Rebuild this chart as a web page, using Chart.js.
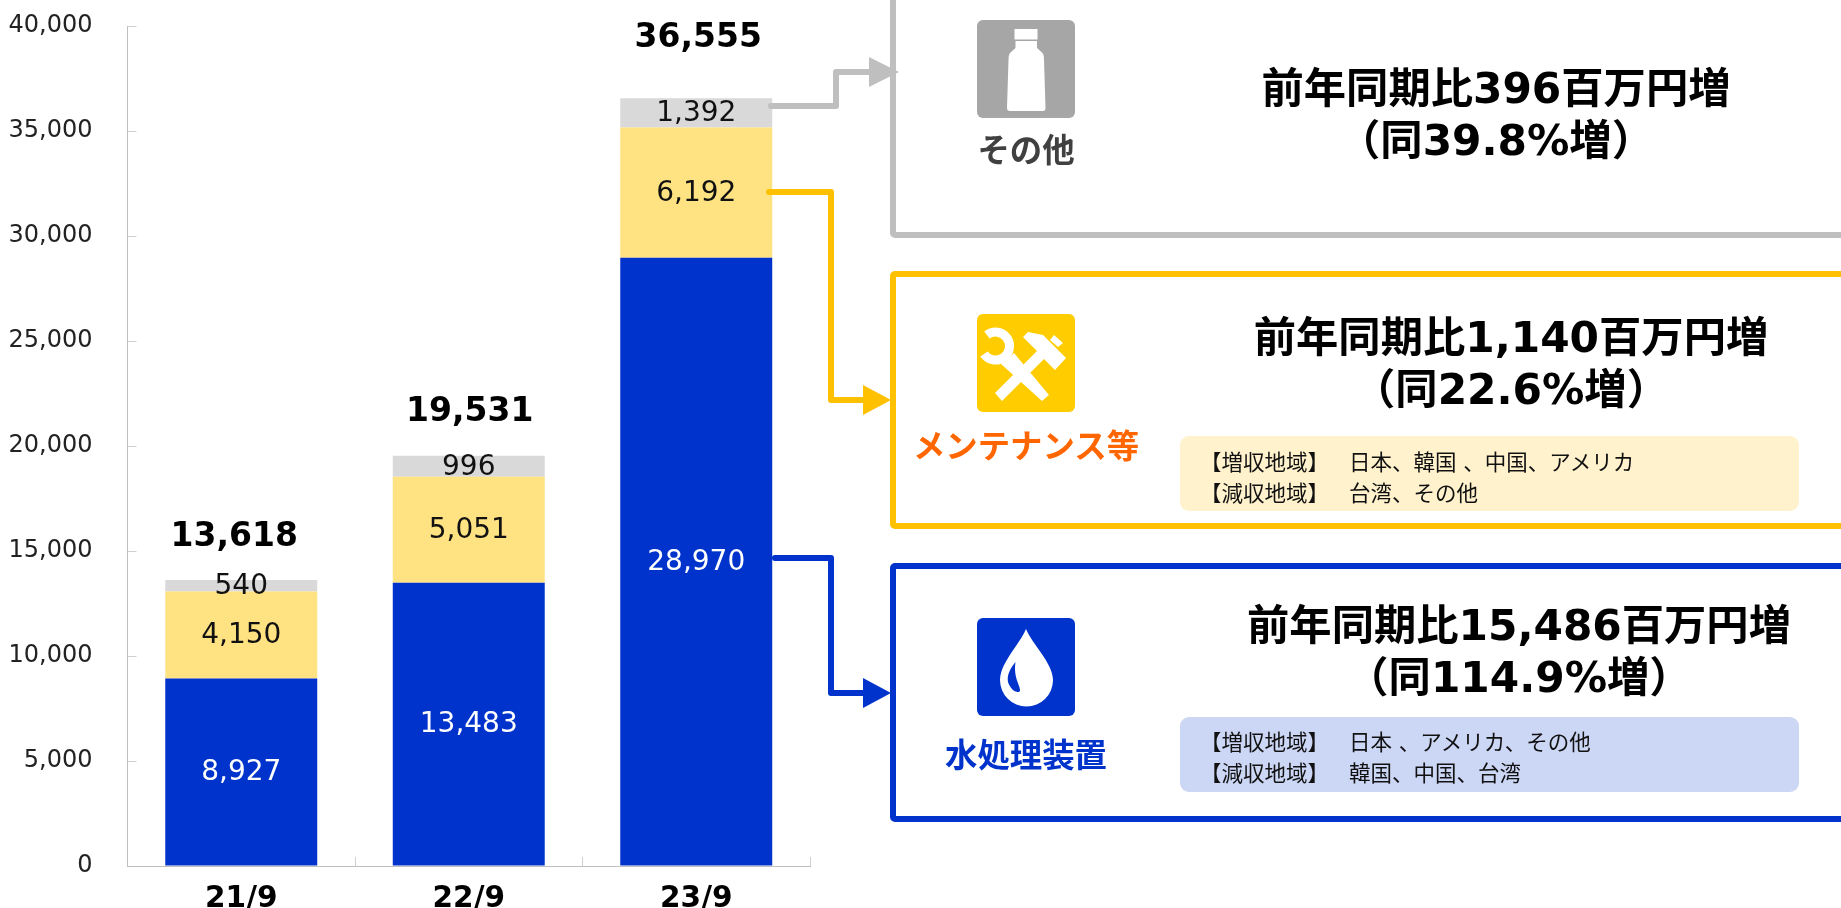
<!DOCTYPE html>
<html lang="ja">
<head>
<meta charset="utf-8">
<title>chart</title>
<script src="https://cdn.jsdelivr.net/npm/chart.js@4"></script>
<style>
  html, body { margin: 0; padding: 0; background: #fff; overflow: hidden; }
  #wrap { position: relative; width: 1841px; height: 908px; overflow: hidden; font-family: "DejaVu Sans", "Noto Sans CJK JP", sans-serif; }
  #mycanvas { position: absolute; left: 0; top: 0; }
  #overlay { position: absolute; left: 0; top: 0; }
  .head { position: absolute; width: 600px; text-align: center; font-weight: bold; font-size: 42.3px; line-height: 52px; color: #000; white-space: nowrap; }
  .name { position: absolute; left: 876px; width: 300px; text-align: center; font-weight: bold; font-size: 32.4px; line-height: 40px; white-space: nowrap; }
  .note { position: absolute; left: 1180px; width: 619px; height: 75px; border-radius: 9px; font-size: 21.5px; color: #111; }
  .note div { position: absolute; white-space: nowrap; line-height: 28px; }
</style>
</head>
<body>
<div id="wrap">
  <canvas id="mycanvas" width="1841" height="908"></canvas>

  <svg id="overlay" width="1841" height="908" viewBox="0 0 1841 908">
    <!-- boxes -->
    <rect x="893" y="-40" width="1000" height="275" rx="2" fill="none" stroke="#BFBFBF" stroke-width="6"/>
    <rect x="893" y="274" width="1000" height="252" rx="2" fill="none" stroke="#FFC000" stroke-width="6"/>
    <rect x="893" y="566" width="1000" height="253" rx="2" fill="none" stroke="#0033CC" stroke-width="6"/>

    <!-- connectors -->
    <g fill="none" stroke-width="6" stroke-linejoin="round" stroke-linecap="round">
      <polyline points="771,106 836,106 836,72 872,72" stroke="#BFBFBF"/>
      <polyline points="769,192 831,192 831,400 866,400" stroke="#FFC000"/>
      <polyline points="775,558 831,558 831,693 866,693" stroke="#0033CC"/>
    </g>
    <polygon points="869,57 899,72 869,87" fill="#BFBFBF"/>
    <polygon points="863,385 891,400 863,415" fill="#FFC000"/>
    <polygon points="863,678 891,693 863,708" fill="#0033CC"/>

    <!-- bottle icon -->
    <g transform="translate(977,20)">
      <rect width="98" height="98" rx="6" fill="#A6A6A6"/>
      <rect x="37.5" y="9" width="23" height="10.5" fill="#fff"/>
      <path d="M38.5 21 H60 V28 L65.5 33 Q67 35 67 40 L68.5 88 Q68.5 91 66 91 H33 Q30 91 30 88 L31.5 40 Q31.5 35 33 33 L38.5 28 Z" fill="#fff"/>
    </g>
    <!-- tools icon -->
    <g transform="translate(977,314)">
      <rect width="98" height="98" rx="6" fill="#FFCC00"/>
      <g fill="#fff">
        <path d="M46 23 L51 18 L66 21 L89 44 L78 56 L67 45 L25 87 L18 79 L60 37 Z"/>
        <path d="M73 26 L77 21 L86 29 L81 33 Z"/>
        <path d="M30 46 L37 39 L72 81 L65 87 L24 50 Z"/>
      </g>
      <path d="M10 21 A14 14 0 1 1 7 40" fill="none" stroke="#fff" stroke-width="9"/>
    </g>
    <!-- drop icon -->
    <g transform="translate(977,618)">
      <rect width="98" height="98" rx="6" fill="#0033CC"/>
      <path d="M49 11 C55 26 76 45 76 62 A26.5 26.5 0 0 1 23 62 C23 45 43 26 49 11 Z" fill="#fff"/>
      <path d="M38.5 44 C32 52 30 58 31 64 C33 70 37 74 41 74 C44 74 43 71 42 68 C39 60 37 54 38.5 44 Z" fill="#0033CC"/>
    </g>
  </svg>

  <div class="name" style="top:131px;color:#404040">その他</div>
  <div class="name" style="top:427px;color:#FF6600">メンテナンス等</div>
  <div class="name" style="top:736px;color:#0033CC">水処理装置</div>

  <div class="head" style="left:1196px;top:63px">前年同期比396百万円増<br>（同39.8%増）</div>
  <div class="head" style="left:1211px;top:312px">前年同期比1,140百万円増<br>（同22.6%増）</div>
  <div class="head" style="left:1219px;top:600px">前年同期比15,486百万円増<br>（同114.9%増）</div>

  <div class="note" style="top:436px;background:#FFF2CC">
    <div style="left:20px;top:13px">【増収地域】</div><div style="left:169px;top:13px">日本、韓国 、中国、アメリカ</div>
    <div style="left:20px;top:44px">【減収地域】</div><div style="left:169px;top:44px">台湾、その他</div>
  </div>
  <div class="note" style="top:717px;background:#CCD6F5">
    <div style="left:20px;top:12px">【増収地域】</div><div style="left:169px;top:12px">日本 、アメリカ、その他</div>
    <div style="left:20px;top:43px">【減収地域】</div><div style="left:169px;top:43px">韓国、中国、台湾</div>
  </div>
</div>

<script>
const categories = ['21/9', '22/9', '23/9'];
const waterValues = [8927, 13483, 28970];
const maintValues = [4150, 5051, 6192];
const otherValues = [540, 996, 1392];
const totals = [13618, 19531, 36555];
const yMax = 40000;
const yStep = 5000;

const fontName = '"DejaVu Sans", "Noto Sans CJK JP", sans-serif';

function fmt(v) {
    return v.toLocaleString('en-US');
}

// segment values and the total above each stack
const barLabels = {
    id: 'barLabels',
    afterDatasetsDraw(chart) {
        const ctx = chart.ctx;
        // totals were hand placed in the original, not centred on the bars
        const totalShift = [-7, 1, 2];
        const totalLift = [43, 43, 60];
        ctx.save();
        ctx.textAlign = 'center';
        ctx.textBaseline = 'middle';
        ctx.font = '28px ' + fontName;
        chart.data.datasets.forEach(function (ds, i) {
            const meta = chart.getDatasetMeta(i);
            meta.data.forEach(function (bar, j) {
                ctx.fillStyle = ds.labelColor;
                ctx.fillText(fmt(ds.data[j]), bar.x, (bar.y + bar.base) / 2 + 1);
            });
        });
        const top = chart.getDatasetMeta(chart.data.datasets.length - 1);
        ctx.font = 'bold 33px ' + fontName;
        ctx.fillStyle = '#000';
        top.data.forEach(function (bar, j) {
            ctx.fillText(fmt(totals[j]), bar.x + totalShift[j], bar.y - totalLift[j]);
        });
        ctx.restore();
    }
};

new Chart(document.getElementById('mycanvas'), {
    type: 'bar',
    data: {
        labels: categories,
        datasets: [
            { label: '水処理装置', data: waterValues, backgroundColor: '#0033CC', labelColor: '#fff' },
            { label: 'メンテナンス等', data: maintValues, backgroundColor: '#FFE281', labelColor: '#111' },
            { label: 'その他', data: otherValues, backgroundColor: '#D9D9D9', labelColor: '#111' }
        ]
    },
    plugins: [barLabels],
    options: {
        responsive: false,
        animation: false,
        layout: { padding: { top: 26, right: 1031, left: 0, bottom: 0 } },
        plugins: { legend: { display: false }, tooltip: { enabled: false }, title: { display: false } },
        datasets: { bar: { categoryPercentage: 0.668, barPercentage: 1 } },
        scales: {
            x: {
                stacked: true,
                afterFit: function (s) { s.height = 42; s.paddingLeft = 0; s.paddingRight = 0; },
                border: { color: '#BFBFBF', width: 1 },
                grid: { drawOnChartArea: false, drawTicks: true, tickLength: -9, color: '#D0D0D0' },
                ticks: { color: '#000', font: { family: fontName, size: 29.5, weight: 'bold' }, padding: 25, maxRotation: 0 }
            },
            y: {
                stacked: true,
                min: 0,
                max: yMax,
                afterFit: function (s) { s.width = 127.5; s.paddingTop = 0; s.paddingBottom = 0; },
                border: { color: '#BFBFBF', width: 1 },
                grid: { drawOnChartArea: false, drawTicks: true, tickLength: -9, color: '#D0D0D0' },
                ticks: {
                    stepSize: yStep,
                    color: '#222',
                    padding: 44,
                    font: { family: fontName, size: 24 },
                    callback: function (v) { return fmt(v); }
                }
            }
        }
    }
});
</script>
</body>
</html>
